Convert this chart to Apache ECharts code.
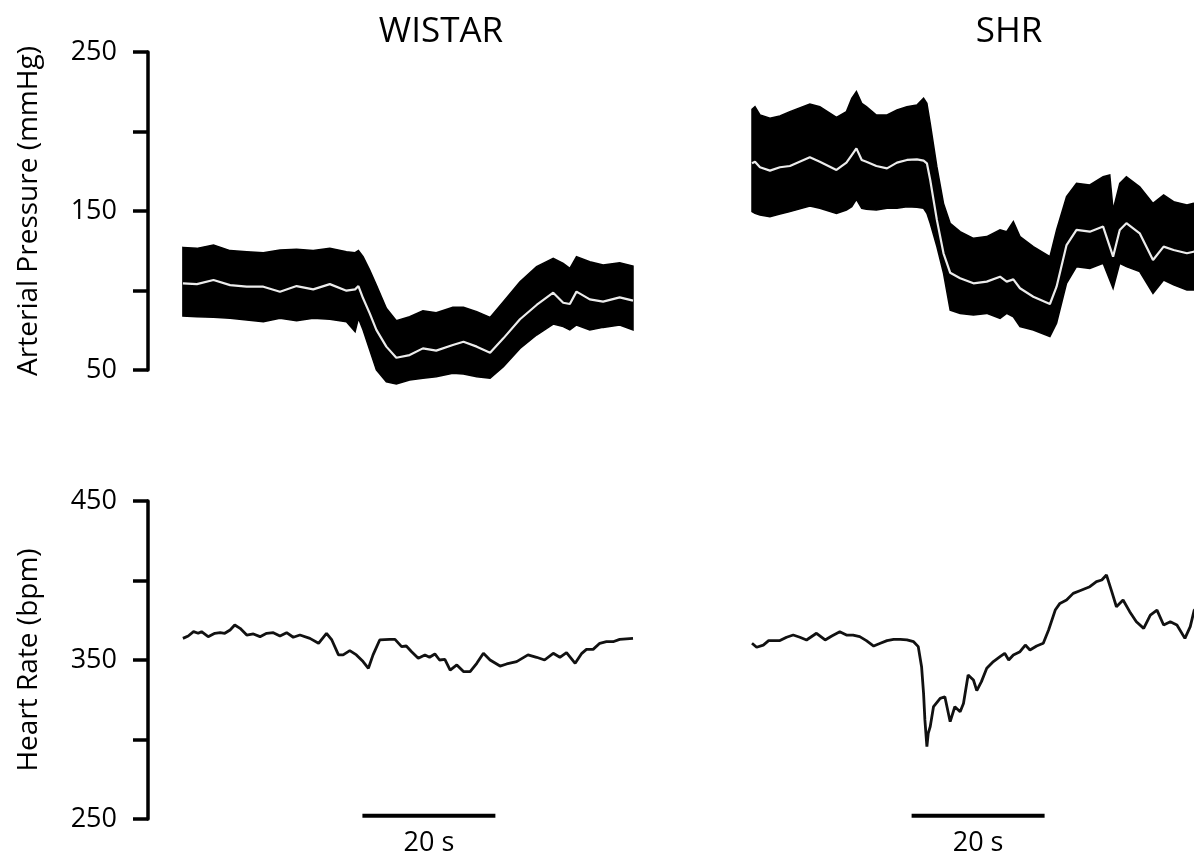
<!DOCTYPE html>
<html><head><meta charset="utf-8">
<script src="https://cdn.jsdelivr.net/npm/echarts@6/dist/echarts.min.js"></script>
<style>html,body{margin:0;padding:0;background:#fff}#c{width:1194px;height:858px}</style>
</head><body><div id="c"></div>
<script>
const panelTitles = ['WISTAR', 'SHR'];
const pressureAxisName = 'Arterial Pressure (mmHg)';
const hrAxisName = 'Heart Rate (bpm)';
const pressureTickLabels = [50, 150, 250];
const hrTickLabels = [250, 350, 450];
const scaleBarLabel = '20 s';
const wistarScaleBar = [27, 47];
const shrScaleBar = [24, 44];
const scaleBarLevel = 252;

// WISTAR arterial pressure (time s, pulse min, pulse max, mean)
const wistarPTime = [0, 2.1, 4.6, 7.1, 9.6, 12.1, 14.6, 17.1, 19.6, 22.1, 24.6, 25.9, 26.4, 27.1, 28.1, 29.1, 30.6, 32.1, 34.1, 36.1, 38.1, 40.6, 42.2, 44.2, 46.2, 48.2, 50.7, 53.2, 55.7, 57.2, 58.2, 59.2, 61.2, 63.2, 65.7, 67.7];
const wistarPHigh = [127.1, 126.5, 128.6, 125.1, 124.4, 123.8, 125.5, 125.9, 125.1, 126.5, 124.4, 123.8, 125.1, 121.3, 112.9, 103.5, 88.8, 81.0, 83.5, 87.3, 86.0, 89.4, 89.4, 86.7, 83.1, 93.0, 105.5, 115.0, 120.2, 117.1, 113.9, 121.3, 118.1, 116.0, 117.5, 115.4];
const wistarPMean = [104.5, 104.0, 106.6, 103.4, 102.4, 102.4, 99.2, 102.8, 100.7, 104.0, 99.9, 100.7, 102.8, 95.1, 85.6, 75.2, 64.7, 57.7, 59.4, 63.6, 62.2, 65.7, 67.8, 64.7, 60.9, 69.9, 81.9, 90.9, 98.6, 92.3, 91.5, 99.3, 94.4, 93.0, 95.7, 93.6];
const wistarPLow = [84.0, 83.5, 83.1, 82.5, 81.4, 80.4, 82.5, 81.0, 82.5, 81.9, 80.4, 74.1, 82.5, 75.2, 62.6, 50.0, 42.6, 41.2, 43.7, 44.8, 45.8, 47.9, 47.5, 45.8, 44.8, 52.1, 63.6, 72.0, 78.9, 77.3, 75.2, 78.3, 75.2, 76.8, 78.3, 75.2];

// SHR arterial pressure
const shrPTime = [0, 0.45, 1.2, 2.7, 4.2, 5.7, 8.7, 10.2, 12.7, 14.2, 15.0, 15.7, 16.5, 17.2, 18.7, 20.3, 21.8, 23.3, 24.8, 25.8, 26.3, 26.8, 27.8, 28.8, 29.8, 31.3, 33.3, 35.3, 37.3, 38.3, 39.3, 40.3, 42.3, 44.8, 45.8, 47.3, 48.8, 50.8, 52.8, 53.8, 54.3, 55.3, 56.3, 58.3, 60.3, 61.9, 63.4, 65.4, 66.4, 68.4];
const shrPHigh = [213.9, 215.6, 210.4, 208.3, 209.8, 212.5, 217.3, 215.6, 208.9, 212.5, 220.9, 225.1, 217.7, 215.6, 210.4, 210.4, 213.5, 215.6, 216.7, 220.9, 217.7, 205.1, 177.9, 154.8, 142.3, 137.0, 132.8, 133.9, 138.1, 137.0, 143.3, 133.9, 127.6, 121.3, 138.1, 159.0, 167.4, 166.4, 171.6, 172.7, 150.6, 167.4, 171.6, 165.3, 154.8, 160.1, 155.9, 153.8, 154.8, 154.4];
const shrPMean = [180.0, 181.0, 177.5, 175.4, 177.5, 178.3, 183.8, 181.0, 175.8, 180.4, 185.2, 189.4, 182.1, 181.0, 178.3, 176.8, 180.4, 182.1, 182.5, 181.7, 180.0, 169.5, 144.4, 123.4, 111.2, 107.7, 104.5, 105.6, 108.7, 105.6, 107.0, 101.4, 96.1, 91.5, 102.4, 128.6, 138.1, 137.0, 140.2, 127.6, 121.3, 138.1, 142.3, 136.0, 119.2, 127.6, 125.5, 123.4, 124.4, 124.4];
const shrPLow = [149.6, 148.5, 147.5, 146.4, 148.1, 149.6, 153.2, 151.7, 148.5, 150.6, 152.7, 157.3, 151.7, 151.1, 150.6, 151.7, 151.7, 152.7, 152.3, 151.7, 148.5, 142.3, 127.6, 110.8, 87.7, 85.6, 84.6, 85.6, 82.5, 85.6, 83.5, 77.3, 75.2, 71.0, 79.4, 104.5, 115.0, 113.9, 117.1, 106.6, 101.4, 117.1, 115.0, 111.9, 98.2, 106.6, 103.5, 100.3, 100.3, 100.3];

// Heart rate
const wistarHrTime = [0, 0.8, 1.6, 2.3, 2.8, 3.8, 4.8, 5.6, 6.3, 7.1, 7.8, 8.6, 9.6, 10.6, 11.6, 12.6, 13.6, 14.6, 15.6, 16.6, 17.6, 19.1, 20.4, 21.6, 22.4, 23.4, 24.1, 25.1, 26.1, 27.1, 27.9, 28.6, 29.6, 31.1, 31.9, 32.9, 33.6, 34.4, 35.4, 36.4, 37.1, 37.9, 38.6, 39.4, 40.2, 41.2, 42.2, 43.2, 44.2, 45.2, 46.2, 47.7, 48.7, 50.2, 51.9, 53.2, 54.4, 55.7, 56.7, 57.7, 59.0, 60.0, 60.7, 61.7, 62.7, 63.7, 64.7, 65.7, 67.7];
const wistarHr = [363.6, 365.1, 367.8, 366.8, 367.8, 364.7, 366.8, 367.2, 366.8, 368.9, 372.0, 369.9, 365.7, 366.4, 364.7, 366.8, 367.2, 365.1, 367.2, 364.3, 365.7, 363.6, 360.5, 366.8, 362.6, 353.2, 353.2, 355.9, 353.2, 349.0, 344.8, 353.2, 362.6, 363.0, 363.0, 358.4, 358.8, 355.2, 351.1, 353.2, 351.7, 353.8, 350.0, 350.4, 343.7, 346.9, 342.7, 342.7, 347.9, 354.2, 350.0, 346.2, 347.5, 349.0, 353.2, 351.7, 350.0, 354.2, 351.7, 354.6, 347.9, 354.2, 356.7, 356.7, 360.5, 361.5, 361.5, 363.0, 363.6];
const shrHrTime = [0, 0.7, 1.7, 2.5, 4.2, 5.2, 6.2, 7.2, 8.2, 9.7, 11.0, 12.0, 13.2, 14.2, 15.2, 16.2, 17.2, 18.3, 19.3, 20.3, 21.3, 22.3, 23.3, 24.3, 25.0, 25.5, 25.8, 26.0, 26.3, 26.5, 26.8, 27.3, 28.3, 29.0, 29.8, 30.5, 31.3, 31.8, 32.5, 33.3, 33.8, 34.5, 35.3, 36.3, 37.3, 38.0, 38.6, 39.3, 40.3, 41.1, 41.8, 42.8, 43.8, 44.6, 45.6, 46.3, 47.3, 48.3, 49.3, 50.8, 51.8, 52.6, 53.3, 54.1, 54.8, 55.8, 56.8, 57.8, 58.9, 59.9, 60.9, 61.9, 62.9, 63.9, 65.1, 65.9, 66.5, 68.0];
const shrHr = [360.5, 358.0, 359.4, 362.2, 362.2, 364.3, 365.7, 364.3, 362.6, 366.8, 362.6, 365.1, 367.8, 365.7, 365.7, 364.7, 362.2, 358.8, 360.5, 362.2, 363.0, 363.0, 362.6, 361.5, 358.4, 345.8, 329.0, 312.3, 295.5, 303.9, 308.1, 320.7, 325.9, 326.9, 311.2, 320.6, 317.5, 322.7, 340.6, 337.4, 330.7, 336.4, 344.8, 349.0, 352.1, 354.2, 350.0, 353.1, 355.2, 359.4, 356.3, 358.8, 360.5, 368.9, 381.4, 385.6, 387.7, 391.9, 393.6, 396.1, 399.3, 400.3, 403.5, 393.0, 383.5, 387.7, 380.4, 374.1, 369.9, 378.3, 381.4, 372.0, 374.1, 372.0, 363.6, 371.0, 381.4, 384.0];

const FONT = 'Open Sans';
const chart = echarts.init(document.getElementById('c'), null, {renderer: 'canvas'});

function pairs(t, v) { return t.map((x, i) => [x, v[i]]); }

function bandSeries(ax, time, low, high, mean) {
  const rows = time.map((t, i) => [t, low[i], high[i]]);
  return [
    {type: 'custom', xAxisIndex: ax, yAxisIndex: ax, data: rows, clip: false, silent: true, z: 2,
     encode: {x: 0, y: [1, 2]},
     renderItem: function (params, api) {
       if (params.dataIndex !== 0) return {type: 'group', children: []};
       const top = [], bot = [];
       for (let i = 0; i < rows.length; i++) {
         top.push(api.coord([rows[i][0], rows[i][2]]));
         bot.push(api.coord([rows[i][0], rows[i][1]]));
       }
       return {type: 'polygon', shape: {points: top.concat(bot.reverse())},
               style: {fill: '#000', stroke: '#000', lineWidth: 1.5}};
     }},
    {type: 'line', xAxisIndex: ax, yAxisIndex: ax, data: pairs(time, mean),
     symbol: 'none', lineStyle: {color: '#ececec', width: 2.2}, clip: false, silent: true, z: 3}
  ];
}
function hrSeries(ax, time, hr) {
  return {type: 'line', xAxisIndex: ax, yAxisIndex: ax, data: pairs(time, hr), symbol: 'none',
          lineStyle: {color: '#111', width: 2.8}, clip: false, silent: true, z: 3};
}
function scaleBar(ax, bar) {
  return [
    {type: 'line', xAxisIndex: ax, yAxisIndex: ax, data: [[bar[0], scaleBarLevel], [bar[1], scaleBarLevel]],
     symbol: 'none', lineStyle: {color: '#000', width: 4}, clip: false, silent: true},
    {type: 'scatter', xAxisIndex: ax, yAxisIndex: ax, data: [[(bar[0] + bar[1]) / 2, scaleBarLevel]],
     symbolSize: 0.1, itemStyle: {color: '#000', opacity: 1}, clip: false, silent: true,
     label: {show: true, position: 'bottom', distance: 14, formatter: scaleBarLabel,
             fontSize: 27, color: '#000', opacity: 1, textBorderWidth: 0, fontFamily: FONT}}
  ];
}

const yAxisCommon = {
  type: 'value', interval: 50,
  axisLine: {show: true, onZero: false, lineStyle: {color: '#000', width: 3.5}},
  axisTick: {show: true, inside: false, length: 15, lineStyle: {color: '#000', width: 3.5}},
  splitLine: {show: false},
  nameLocation: 'middle', nameRotate: 90, nameGap: 105, nameMoveOverlap: false,
  nameTextStyle: {fontSize: 28, color: '#000', fontFamily: FONT}
};
function labelFmt(list) { return v => list.includes(v) ? String(v) : ''; }

const option = {
  animation: false,
  backgroundColor: '#fff',
  textStyle: {fontFamily: FONT},
  title: [
    {text: panelTitles[0], left: 441, top: 15, textAlign: 'center', padding: 0,
     textStyle: {fontSize: 35, fontWeight: 'normal', color: '#000', fontFamily: FONT}},
    {text: panelTitles[1], left: 1009, top: 15, textAlign: 'center', padding: 0,
     textStyle: {fontSize: 35, fontWeight: 'normal', color: '#000', fontFamily: FONT}}
  ],
  grid: [
    {left: 148, top: 52, width: 487, height: 318, outerBoundsMode: 'none'},
    {left: 148, top: 501, width: 487, height: 318, outerBoundsMode: 'none'},
    {left: 752, top: 52, width: 465.5, height: 318, outerBoundsMode: 'none'},
    {left: 752, top: 501, width: 465.5, height: 318, outerBoundsMode: 'none'}
  ],
  xAxis: [
    {type: 'value', gridIndex: 0, min: -5.25, max: 68, show: false},
    {type: 'value', gridIndex: 1, min: -5.25, max: 68, show: false},
    {type: 'value', gridIndex: 2, min: 0, max: 70, show: false},
    {type: 'value', gridIndex: 3, min: 0, max: 70, show: false}
  ],
  yAxis: [
    Object.assign({}, yAxisCommon, {gridIndex: 0, min: 50, max: 250, name: pressureAxisName,
      axisLabel: {formatter: labelFmt(pressureTickLabels), fontSize: 27, color: '#000', margin: 31, fontFamily: FONT}}),
    Object.assign({}, yAxisCommon, {gridIndex: 1, min: 250, max: 450, name: hrAxisName,
      axisLabel: {formatter: labelFmt(hrTickLabels), fontSize: 27, color: '#000', margin: 31, fontFamily: FONT}}),
    {type: 'value', gridIndex: 2, min: 50, max: 250, show: false},
    {type: 'value', gridIndex: 3, min: 250, max: 450, show: false}
  ],
  series: [].concat(
    bandSeries(0, wistarPTime, wistarPLow, wistarPHigh, wistarPMean),
    bandSeries(2, shrPTime, shrPLow, shrPHigh, shrPMean),
    [hrSeries(1, wistarHrTime, wistarHr), hrSeries(3, shrHrTime, shrHr)],
    scaleBar(1, wistarScaleBar),
    scaleBar(3, shrScaleBar)
  )
};
chart.setOption(option);
</script>
</body></html>
